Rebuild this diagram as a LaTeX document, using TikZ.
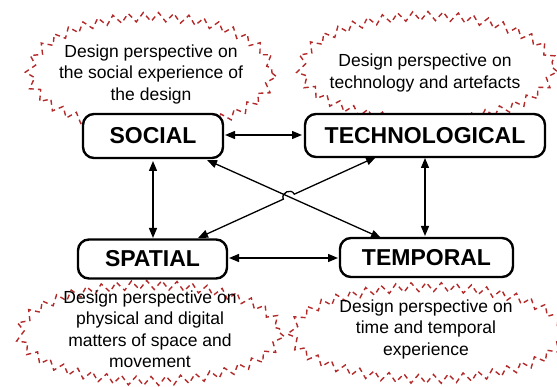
\documentclass[tikz,border=0pt]{standalone}
\usepackage{fontspec}
\setmainfont{Liberation Sans}
\usetikzlibrary{decorations.pathmorphing,arrows.meta,calc,intersections}
\definecolor{cloudred}{RGB}{178,42,42}
\tikzset{
  x=1pt,y=-1pt,
  cloud/.style={draw=cloudred,line width=1.4pt,dash pattern=on 5pt off 4pt,
    decorate,decoration={zigzag,segment length=15pt,amplitude=4.5pt}},
  cloudtext/.style={align=center,font=\fontsize{17.5}{21.5}\selectfont},
  box/.style={draw,line width=2.4pt,rounded corners=11pt,fill=white,
    font=\fontsize{23}{26}\selectfont\bfseries,inner sep=0pt},
  arr/.style={line width=1.3pt,{Triangle[length=10pt,width=8pt]}-{Triangle[length=10pt,width=8pt]}}
}
\begin{document}
\begin{tikzpicture}
\useasboundingbox (0,0) rectangle (557,387);
% clouds
\draw[cloud] (151,73) ellipse [x radius=121, y radius=56];
\draw[cloud] (427,68) ellipse [x radius=126, y radius=52];
\draw[cloud] (150,333) ellipse [x radius=130, y radius=48];
\draw[cloud] (428,333) ellipse [x radius=136, y radius=46];
\node[cloudtext] (t1) at (151,74) {Design perspective on\\the social experience of\\the design};
\node[cloudtext] (t2) at (425,73) {Design perspective on\\technology and artefacts};
\node[cloudtext] (t3) at (150,329) {Design perspective on\\physical and digital\\matters of space and\\movement};
\node[cloudtext] (t4) at (426,329) {Design perspective on\\time and temporal\\experience};
% boxes
\node[box,minimum width=140,minimum height=44] (soc) at (153,136) {SOCIAL};
\node[box,minimum width=240,minimum height=43] (tec) at (425,135.5) {TECHNOLOGICAL};
\node[box,minimum width=149,minimum height=39] (spa) at (152.5,259) {SPATIAL};
\node[box,minimum width=173,minimum height=39] (tem) at (426.5,257.5) {TEMPORAL};
% arrow end points
\coordinate (a1) at (225,135);
\coordinate (a2) at (302,135);
\coordinate (b1) at (153,161);
\coordinate (b2) at (153,238);
\coordinate (c1) at (425,158);
\coordinate (c2) at (425,236);
\coordinate (d1) at (229,258);
\coordinate (d2) at (338,258);
\coordinate (e1) at (207,160);
\coordinate (e2) at (381,238);
\coordinate (f1) at (198,238);
\coordinate (f2) at (376,157);
\draw[arr] (a1) -- (a2);
\draw[arr] (b1) -- (b2);
\draw[arr] (c1) -- (c2);
\draw[arr] (d1) -- (d2);
\draw[arr,name path=diagA] (e1) -- (e2);
\path[name path=diagB] (f1) -- (f2);
\path[name intersections={of=diagA and diagB,by=X}];
\draw[arr] (f1) -- ($(X)!6pt!(f1)$) to[bend left=90,looseness=1.5] ($(X)!6pt!(f2)$) -- (f2);
\end{tikzpicture}
\end{document}
